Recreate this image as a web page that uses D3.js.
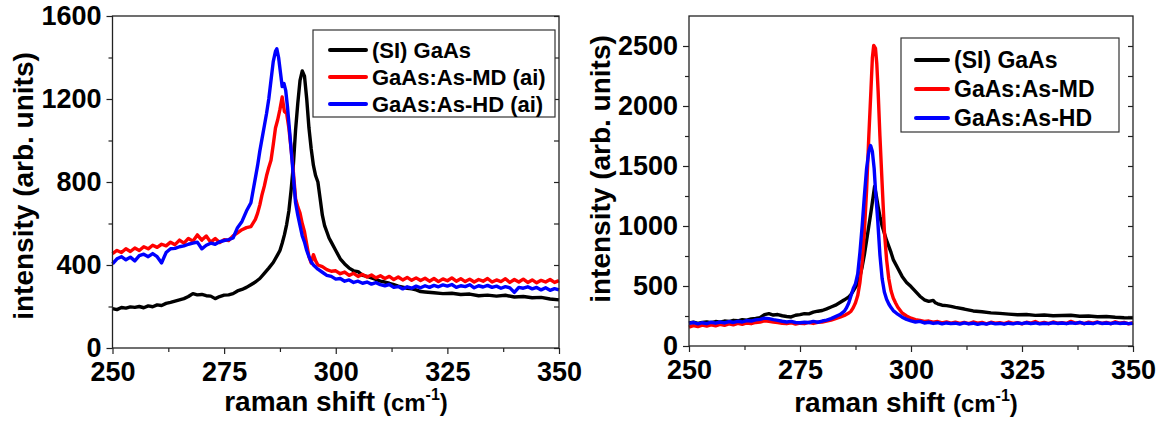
<!DOCTYPE html>
<html>
<head>
<meta charset="utf-8">
<script src="https://cdn.jsdelivr.net/npm/d3@7"></script>
<style>
  body { margin: 0; background: #fff; }
  svg { display: block; }
  text { font-family: "Liberation Sans", Arial, sans-serif; font-weight: bold; fill: #000; }
</style>
</head>
<body>
<svg width="1171" height="421"></svg>
<script>
// raman spectra, [shift (cm-1), intensity]
const siLeft = [[250,190],[251,185],[252,195],[253,192],[254,198],[255,196],[256,200],[257,194],[258,203],[259,199],[260,208],[261,205],[262,215],[263,220],[264,226],[265,232],[266,238],[267,248],[268,262],[269,256],[270,258],[271,252],[272,250],[273,238],[274,248],[275,255],[276,256],[277,262],[278,275],[279,282],[280,292],[281,305],[282,318],[283,335],[284,360],[285,385],[286,412],[287,450],[287.5,470],[288,505],[288.5,545],[289,595],[289.5,660],[290,760],[290.5,880],[291,1050],[291.5,1180],[292,1290],[292.5,1335],[293,1310],[293.5,1200],[294,1060],[294.5,960],[295,880],[295.5,830],[296,800],[296.5,720],[297,640],[297.5,590],[298,560],[298.5,530],[299,510],[300,470],[301,430],[302,405],[303,385],[304,372],[305,368],[306,350],[307,345],[308,338],[309,330],[310,322],[311,318],[312,312],[313,305],[314,298],[315,293],[316,288],[317,285],[318,280],[319,272],[320,270],[322,266],[324,262],[326,264],[328,258],[330,260],[332,252],[334,255],[336,250],[338,254],[340,246],[342,248],[344,242],[346,244],[348,236],[350,232]];
const mdLeft = [[250,455],[251,470],[252,460],[253,478],[254,465],[255,482],[256,470],[257,488],[258,478],[259,495],[260,485],[261,500],[262,492],[263,510],[264,498],[265,520],[266,505],[267,528],[268,515],[269,545],[270,520],[271,540],[272,510],[273,528],[274,508],[275,522],[276,518],[277,540],[278,555],[279,570],[280,580],[281,585],[282,620],[282.5,650],[283,690],[283.5,740],[284,780],[284.5,830],[285,870],[285.5,905],[286,980],[286.5,1060],[287,1100],[287.5,1150],[288,1210],[288.5,1140],[289,1130],[289.5,1060],[290,960],[290.5,850],[291,720],[291.5,680],[292,650],[292.5,600],[293,560],[293.5,500],[294,440],[294.5,410],[295,450],[295.5,420],[296,400],[297,392],[298,378],[299,370],[300,372],[301,358],[302,366],[303,350],[304,360],[305,345],[306,355],[307,342],[308,352],[309,338],[310,348],[311,335],[312,345],[313,330],[314,342],[315,328],[316,340],[317,326],[318,338],[319,325],[320,336],[321,322],[322,335],[323,320],[324,333],[325,324],[326,338],[327,322],[328,334],[329,320],[330,332],[331,318],[332,330],[333,322],[334,335],[335,318],[336,328],[337,320],[338,334],[339,316],[340,330],[341,318],[342,332],[343,316],[344,328],[345,314],[346,326],[347,318],[348,330],[349,316],[350,325]];
const hdLeft = [[250,405],[251,430],[252,440],[253,425],[254,438],[255,420],[256,445],[257,452],[258,440],[259,455],[260,440],[261,410],[262,460],[263,478],[264,480],[265,488],[266,492],[267,500],[268,505],[269,510],[270,478],[271,495],[272,505],[273,500],[274,512],[275,518],[276,522],[277,530],[278,580],[279,610],[280,660],[281,700],[281.5,760],[282,820],[282.5,880],[283,950],[283.5,1010],[284,1070],[284.5,1130],[285,1200],[285.5,1290],[286,1380],[286.5,1430],[286.8,1442],[287.2,1400],[287.6,1330],[288,1260],[288.4,1275],[288.8,1240],[289.2,1160],[289.6,1060],[290,960],[290.5,830],[291,700],[291.5,640],[292,590],[292.5,540],[293,510],[293.5,470],[294,440],[294.5,415],[295,400],[296,380],[297,365],[298,350],[299,345],[300,332],[301,335],[302,322],[303,328],[304,316],[305,322],[306,312],[307,318],[308,308],[309,315],[310,305],[311,300],[312,306],[313,292],[314,296],[315,285],[316,295],[317,288],[318,298],[319,290],[320,300],[321,292],[322,302],[323,295],[324,304],[325,298],[326,306],[327,292],[328,300],[329,296],[330,305],[331,290],[332,300],[333,294],[334,302],[335,292],[336,298],[337,288],[338,296],[339,290],[340,268],[341,292],[342,288],[343,295],[344,285],[345,292],[346,280],[347,290],[348,278],[349,286],[350,280]];

const siRight = [[250,192],[251,198],[252,188],[253,196],[254,200],[255,194],[256,204],[257,198],[258,208],[259,204],[260,214],[261,210],[262,220],[263,216],[264,226],[265,230],[266,236],[267,262],[268,270],[269,258],[270,262],[271,252],[272,246],[273,242],[274,256],[275,262],[276,270],[277,268],[278,282],[279,290],[280,296],[281,310],[282,325],[283,340],[284,362],[285,385],[286,410],[286.5,430],[287,460],[287.5,490],[288,520],[288.5,580],[289,660],[289.5,760],[290,880],[290.5,1000],[291,1120],[291.5,1250],[291.8,1330],[292.2,1250],[292.6,1160],[293,1080],[293.5,1000],[294,940],[294.5,880],[295,830],[295.5,780],[296,720],[297,650],[298,580],[299,530],[300,495],[301,455],[302,415],[303,385],[304,372],[305,380],[305.5,360],[306,352],[307,340],[308,336],[309,330],[310,322],[312,308],[314,292],[316,285],[318,276],[320,272],[322,266],[324,260],[326,262],[328,255],[330,258],[332,252],[334,254],[336,256],[338,248],[340,250],[342,244],[344,246],[346,240],[348,236],[350,234]];
const mdRight = [[250,158],[251,170],[252,162],[253,174],[254,166],[255,176],[256,168],[257,180],[258,172],[259,185],[260,176],[261,188],[262,180],[263,192],[264,186],[265,196],[266,200],[267,210],[268,206],[269,200],[270,196],[271,190],[272,186],[273,194],[274,182],[275,190],[276,186],[277,196],[278,188],[279,198],[280,200],[281,208],[282,215],[283,228],[284,240],[285,255],[286,275],[286.5,290],[287,320],[287.5,360],[288,420],[288.5,530],[289,700],[289.5,950],[290,1300],[290.5,1750],[291,2150],[291.3,2400],[291.6,2505],[292,2480],[292.3,2350],[292.6,2120],[293,1750],[293.5,1350],[294,960],[294.5,720],[295,560],[295.5,460],[296,400],[296.5,360],[297,325],[297.5,300],[298,275],[299,250],[300,232],[301,220],[302,214],[303,205],[304,208],[305,198],[306,204],[307,192],[308,200],[309,190],[310,198],[311,188],[312,196],[313,186],[314,200],[315,190],[316,196],[317,184],[318,198],[319,190],[320,194],[321,186],[322,200],[323,188],[324,195],[325,185],[326,198],[327,190],[328,204],[329,188],[330,196],[331,186],[332,200],[333,190],[334,195],[335,188],[336,205],[337,190],[338,196],[339,186],[340,198],[341,190],[342,200],[343,188],[344,196],[345,186],[346,202],[347,190],[348,196],[349,184],[350,195]];
const hdRight = [[250,190],[251,196],[252,184],[253,194],[254,186],[255,198],[256,190],[257,200],[258,192],[259,204],[260,196],[261,206],[262,200],[263,212],[264,208],[265,218],[266,222],[267,232],[268,228],[269,220],[270,214],[271,206],[272,200],[273,205],[274,196],[275,194],[276,198],[277,196],[278,205],[279,198],[280,208],[281,215],[282,228],[283,245],[284,262],[285,290],[285.5,320],[286,360],[286.5,420],[287,480],[287.5,520],[288,600],[288.5,780],[289,1000],[289.5,1250],[290,1480],[290.5,1620],[290.9,1670],[291.3,1620],[291.7,1480],[292,1300],[292.5,1050],[293,760],[293.5,560],[294,450],[294.5,390],[295,350],[295.5,320],[296,295],[297,265],[298,240],[299,222],[300,210],[301,200],[302,205],[303,192],[304,198],[305,188],[306,194],[307,184],[308,192],[309,186],[310,190],[311,182],[312,192],[313,184],[314,190],[315,180],[316,188],[317,182],[318,192],[319,184],[320,188],[321,182],[322,190],[323,184],[324,192],[325,186],[326,194],[327,186],[328,192],[329,184],[330,190],[331,186],[332,194],[333,188],[334,192],[335,186],[336,194],[337,188],[338,196],[339,186],[340,192],[341,186],[342,196],[343,188],[344,192],[345,186],[346,194],[347,188],[348,192],[349,186],[350,190]];

const xTicks = [250, 275, 300, 325, 350];
const yTicksLeft = [0, 400, 800, 1200, 1600];
const yTicksRight = [0, 500, 1000, 1500, 2000, 2500];
const namesLeft = ['(SI) GaAs', 'GaAs:As-MD (ai)', 'GaAs:As-HD (ai)'];
const namesRight = ['(SI) GaAs', 'GaAs:As-MD', 'GaAs:As-HD'];
const colors = ['#000000', '#ff0000', '#0000ff'];

const svg = d3.select('svg');
const fmt = d3.format('d');

function drawPanel(p) {
  const x = d3.scaleLinear().domain([250, 350]).range([p.left, p.right]);
  const y = d3.scaleLinear().domain([0, p.yMax]).range([p.bottom, p.top]);
  const g = svg.append('g');

  // curves first so the frame sits on top
  const line = d3.line().x(d => x(d[0])).y(d => y(d[1]));
  p.series.forEach((s, i) => {
    g.append('path').datum(s)
      .attr('d', line)
      .attr('fill', 'none')
      .attr('stroke', colors[i])
      .attr('stroke-width', 3.4)
      .attr('stroke-linejoin', 'round');
  });

  // frame
  g.append('rect')
    .attr('x', p.left).attr('y', p.top)
    .attr('width', p.right - p.left).attr('height', p.bottom - p.top)
    .attr('fill', 'none').attr('stroke', '#222').attr('stroke-width', 1.3);

  // minor ticks
  const xMinor = d3.range(262.5, 350, 25);
  const yMinor = d3.range(p.yStep / 2, p.yMax, p.yStep);
  g.append('g').attr('transform', `translate(0,${p.bottom})`)
    .call(d3.axisBottom(x).tickValues(xMinor).tickSize(4).tickFormat(''))
    .call(a => a.select('.domain').remove());
  g.append('g').attr('transform', `translate(${p.left},0)`)
    .call(d3.axisLeft(y).tickValues(yMinor).tickSize(4).tickFormat(''))
    .call(a => a.select('.domain').remove());
  // mirrored ticks on the right edge, pointing inward
  g.append('g').attr('transform', `translate(${p.right},0)`)
    .call(d3.axisLeft(y).tickValues(p.yTicks.concat(yMinor)).tickSize(5).tickFormat(''))
    .call(a => a.select('.domain').remove());

  // major ticks with labels
  const xa = g.append('g').attr('transform', `translate(0,${p.bottom})`)
    .call(d3.axisBottom(x).tickValues(xTicks).tickFormat(fmt).tickSize(6).tickPadding(8));
  const ya = g.append('g').attr('transform', `translate(${p.left},0)`)
    .call(d3.axisLeft(y).tickValues(p.yTicks).tickFormat(fmt).tickSize(6).tickPadding(5));
  [xa, ya].forEach(a => {
    a.select('.domain').remove();
    a.attr('font-family', null).attr('font-size', null);
    a.selectAll('text').style('font-size', '27px');
  });
  g.selectAll('.tick line').attr('stroke', '#222').attr('stroke-width', 1.2);

  // axis titles
  g.append('text')
    .attr('transform', `translate(${p.yTitleX},${p.yTitleY}) rotate(-90)`)
    .attr('text-anchor', 'middle')
    .attr('dy', '0.36em')
    .style('font-size', '28px')
    .text('intensity (arb. units)');
  const xt = g.append('text')
    .attr('x', p.xTitleX).attr('y', p.xTitleY)
    .attr('text-anchor', 'middle')
    .style('font-size', '28px');
  xt.append('tspan').text('raman shift ');
  xt.append('tspan').style('font-size', '24px').text('(cm');
  xt.append('tspan').style('font-size', '16px').attr('dy', -11).text('-1');
  xt.append('tspan').style('font-size', '24px').attr('dy', 11).text(')');

  // legend
  const lg = p.legend;
  g.append('rect')
    .attr('x', lg.x).attr('y', lg.y).attr('width', lg.w).attr('height', lg.h)
    .attr('fill', '#fff').attr('stroke', '#333').attr('stroke-width', 1.2);
  p.names.forEach((n, i) => {
    const ry = lg.rows[i];
    g.append('line')
      .attr('x1', lg.lx1).attr('x2', lg.lx2).attr('y1', ry).attr('y2', ry)
      .attr('stroke', colors[i]).attr('stroke-width', 4).attr('stroke-linecap', 'round');
    g.append('text')
      .attr('x', lg.tx).attr('y', ry).attr('dy', '0.36em')
      .style('font-size', lg.fs + 'px')
      .text(n);
  });
}

drawPanel({
  left: 112.5, right: 559, top: 16, bottom: 348,
  yMax: 1600, yStep: 400, yTicks: yTicksLeft,
  series: [siLeft, mdLeft, hdLeft], names: namesLeft,
  yTitleX: 23, yTitleY: 186, xTitleX: 336, xTitleY: 411,
  legend: { x: 313, y: 30, w: 242, h: 87, rows: [50, 77, 104], lx1: 330, lx2: 366, tx: 372, fs: 22 }
});

drawPanel({
  left: 689, right: 1133, top: 16, bottom: 346,
  yMax: 2750, yStep: 500, yTicks: yTicksRight,
  series: [siRight, mdRight, hdRight], names: namesRight,
  yTitleX: 600, yTitleY: 169, xTitleX: 906, xTitleY: 412,
  legend: { x: 901, y: 38, w: 218, h: 94, rows: [60, 89, 118], lx1: 916, lx2: 948, tx: 954, fs: 23 }
});
</script>
</body>
</html>
